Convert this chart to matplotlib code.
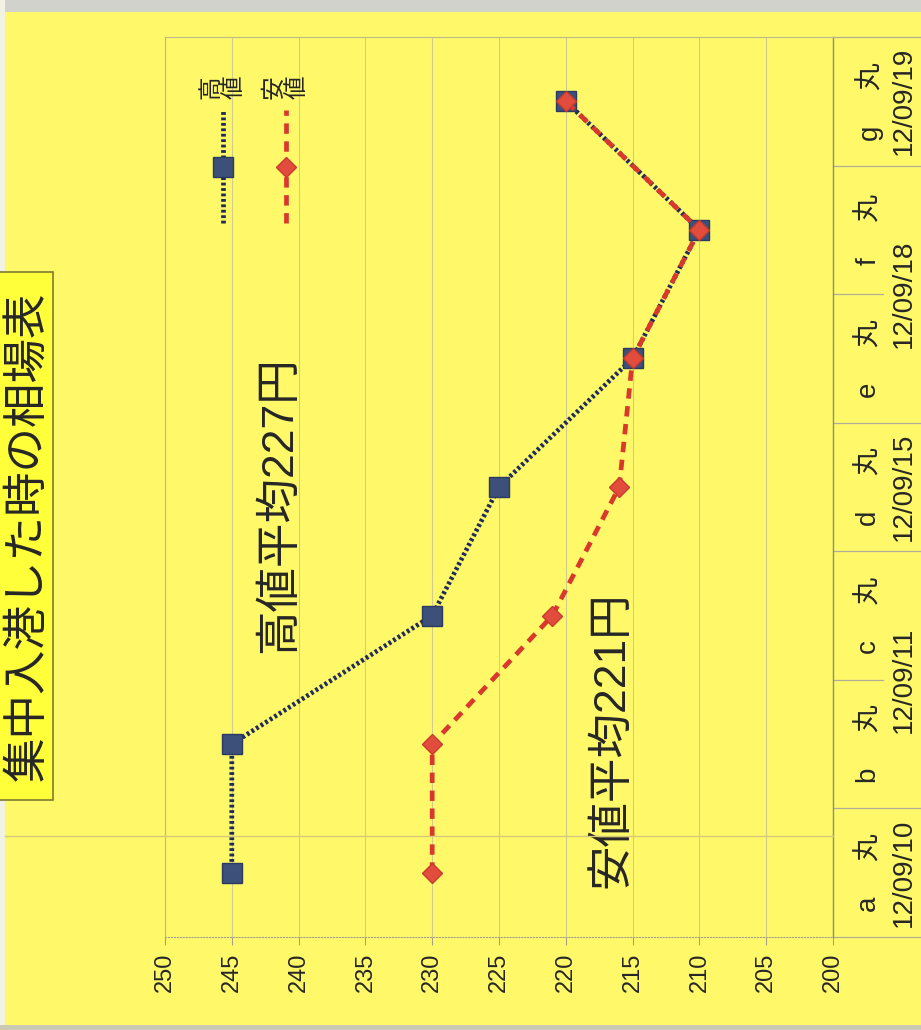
import matplotlib.pyplot as plt
from matplotlib.patches import Rectangle
from matplotlib.lines import Line2D

plt.rcParams['font.family'] = ['Liberation Sans', 'Noto Sans CJK JP']

# chart data (the scan is rotated 90 deg, so values run along x, 250 on the left)
ships = ['a', 'b', 'c', 'd', 'e', 'f', 'g']
date_groups = ['12/09/10', '12/09/11', '12/09/15', '12/09/18', '12/09/19']
group_sizes = [1, 2, 1, 2, 1]
high = [245, 245, 230, 225, 215, 210, 220]
low = [230, 230, 221, 216, 215, 210, 220]
value_ticks = list(range(200, 251, 5))
series_names = ['高値', '安値']
title = '集中入港した時の相場表'
high_note = '高値平均227円'
low_note = '安値平均221円'

bg = '#fff96a'
navy = '#1f2c5a'
red = '#d9382c'
txt = '#262626'

fig = plt.figure(figsize=(9.21, 10.3), dpi=100, facecolor=bg)
W, H = 921, 1030
ax = fig.add_axes([165 / W, 1 - 937 / H, 668 / W, 900 / H])
ax.set_facecolor(bg)

pos = list(range(len(ships)))
high_style = dict(color=navy, lw=3.4, dashes=(0.6, 0.55), marker='s', ms=14.5,
                  mfc='#3c5079', mec='#2a3a62')
low_style = dict(color=red, lw=3.4, dashes=(2.2, 1.6), marker='D', ms=10.5,
                 mfc='#e24c3c', mec='#c93a2c')
ax.plot(high, pos, zorder=3, **high_style)
ax.plot(low, pos, zorder=4, **low_style)

ax.set_xlim(250, 200)
ax.set_ylim(-0.5, 6.5)
ax.set_xticks(value_ticks)
ax.set_xticklabels([str(v) for v in value_ticks], rotation=90, fontsize=17, color=txt)
ax.tick_params(axis='x', length=6, width=0.8, color='#a5a28a', pad=5)
ax.set_yticks([])
ax.grid(axis='x', color='#d2cb8e', lw=0.8)
ax.set_axisbelow(True)
for side in ['left', 'top']:
    ax.spines[side].set_color('#bdb78a')
    ax.spines[side].set_linewidth(0.8)
ax.spines['right'].set_color('#8f8f80')
ax.spines['right'].set_linewidth(1.0)
ax.spines['bottom'].set_color('#a09f90')
ax.spines['bottom'].set_linestyle(':')

# two-level category axis on the right side
tr = ax.get_yaxis_transform()
for i, s in enumerate(ships):
    ax.text(1.055, i, s + '\u3000 丸', transform=tr, rotation=90, ha='center',
            va='center', fontsize=20, color=txt, clip_on=False)

start = 0
outer = [-0.5]
inner = []
for d, n in zip(date_groups, group_sizes):
    center = start + (n - 1) / 2
    ax.text(1.106, center, d, transform=tr, rotation=90, ha='center',
            va='center', fontsize=20, color=txt, clip_on=False)
    for k in range(1, n):
        inner.append(start + k - 0.5)
    start += n
    outer.append(start - 0.5)

for b in outer:
    ax.plot([1.0, 1.14], [b, b], transform=tr, color='#b0ad95', lw=0.9, clip_on=False)
for b in inner:
    ax.plot([1.0, 1.075], [b, b], transform=tr, color='#b0ad95', lw=0.9, clip_on=False)

# legend drawn by hand (vertical, like the rotated scan)
for xf, name, style in [(0.087, series_names[0], high_style), (0.181, series_names[1], low_style)]:
    line_only = {k: v for k, v in style.items() if not k.startswith('m')}
    ax.plot([xf, xf], [0.793, 0.919], transform=ax.transAxes, clip_on=False, **line_only)
    ax.plot([xf], [0.856], transform=ax.transAxes, ls='none', marker=style['marker'],
            ms=style['ms'], mfc=style['mfc'], mec=style['mec'], clip_on=False)
    ax.text(xf, 0.944, name[0] + '\n' + name[1], transform=ax.transAxes, rotation=90,
            ha='center', va='center', fontsize=17, color=txt, linespacing=1.1)

ax.text(0.171, 0.48, high_note, transform=ax.transAxes, rotation=90, fontsize=32,
        ha='center', va='center', color=txt)
ax.text(0.669, 0.219, low_note, transform=ax.transAxes, rotation=90, fontsize=32,
        ha='center', va='center', color=txt)

# title box at the left edge
fig.patches.append(Rectangle((-5 / W, 1 - 800 / H), 58 / W, 528 / H, transform=fig.transFigure,
                             facecolor='#ffff3a', edgecolor='#7d7a30', lw=1.2, zorder=5))
fig.text(27 / W, 1 - 536 / H, title, rotation=90, fontsize=32, ha='center', va='center',
         color=txt, family=['Noto Sans CJK JP'], zorder=6)

# scan edges and fold line
fig.patches.append(Rectangle((0, 1 - 12 / H), 1, 12 / H, transform=fig.transFigure,
                             facecolor='#d2d2cc', edgecolor='none', zorder=1))
fig.patches.append(Rectangle((0, 0), 5 / W, 1, transform=fig.transFigure,
                             facecolor='#f2f2e2', edgecolor='none', zorder=1))
fig.patches.append(Rectangle((0, 0), 1, 5 / H, transform=fig.transFigure,
                             facecolor='#c9c9b4', edgecolor='none', zorder=1))
fig.add_artist(Line2D([5 / W, 833 / W], [1 - 836 / H, 1 - 836 / H], transform=fig.transFigure,
                      color='#d6c878', lw=1.0))

fig.savefig('out.png', dpi=100, facecolor=bg)
